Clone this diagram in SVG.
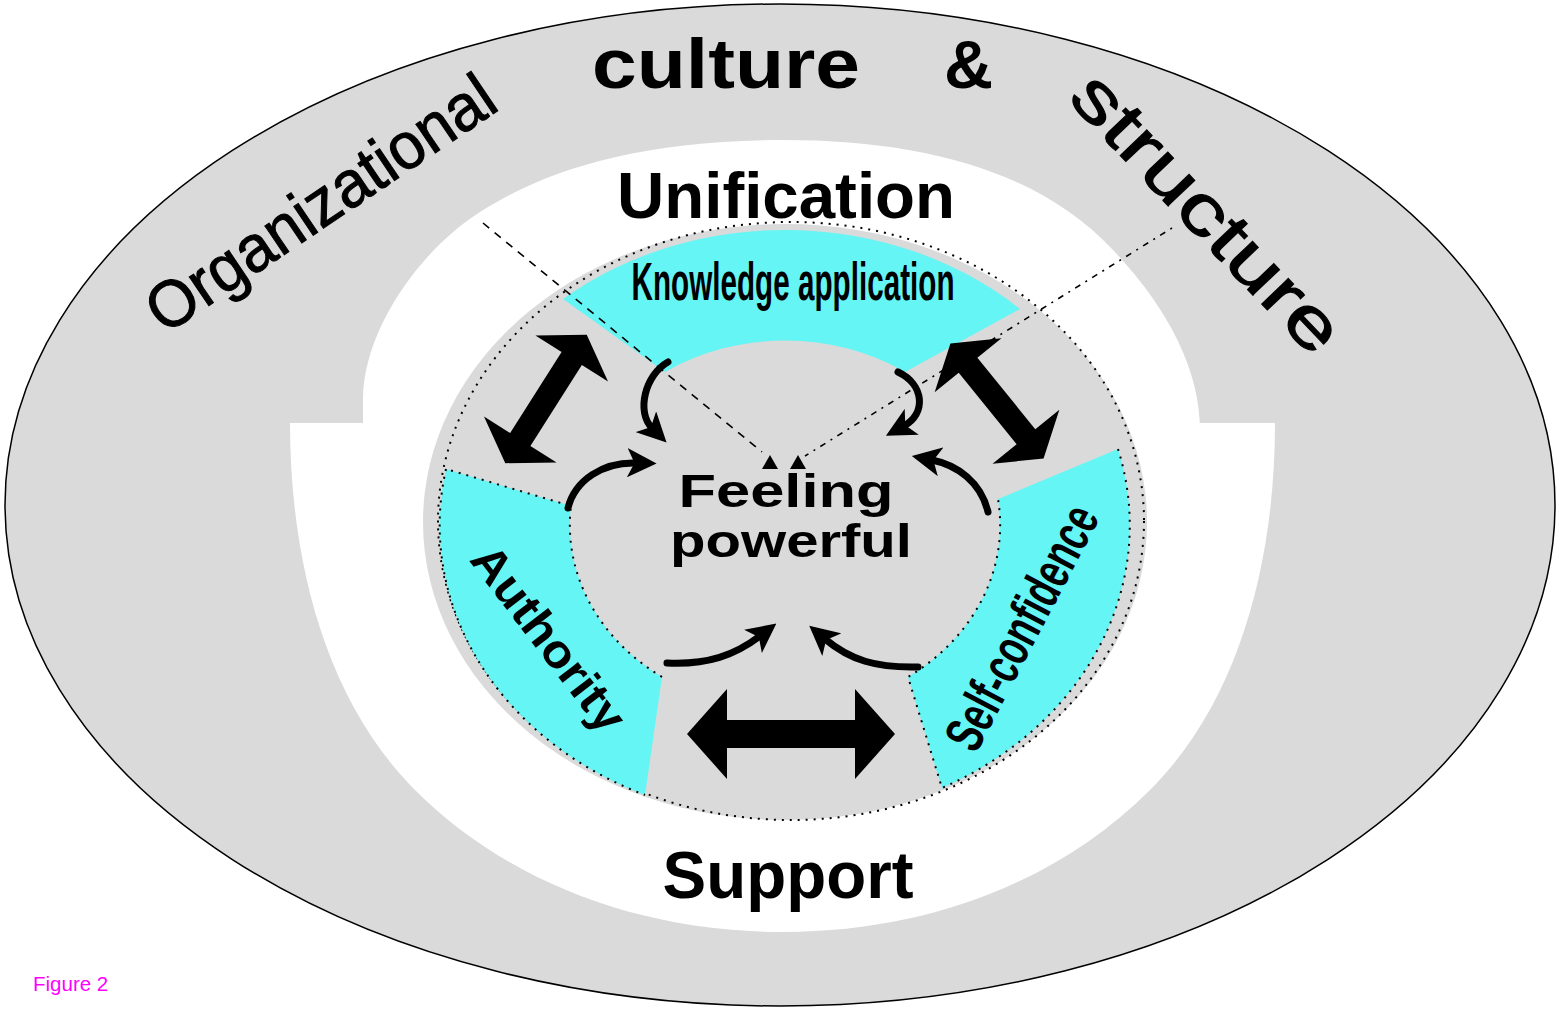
<svg xmlns="http://www.w3.org/2000/svg" width="1560" height="1011" viewBox="0 0 1560 1011">
<defs>
<style>
.gray{fill:#dadada}
.white{fill:#ffffff}
.cyan{fill:#66f5f5}
.dots{fill:none;stroke:#000;stroke-width:2;stroke-dasharray:2 6}
.curve{fill:none;stroke:#000;stroke-width:7;stroke-linecap:round}
.big{fill:#000}
.t{font-family:"Liberation Sans",Arial,sans-serif;fill:#000}
.b{font-weight:bold}
.s{stroke:#000;stroke-width:1}
</style>
<marker id="ah" viewBox="0 0 10 10" refX="3" refY="5" markerWidth="4.2" markerHeight="4.2" orient="auto" markerUnits="strokeWidth">
<path d="M0,0 L10,5 L0,10 L2.5,5 Z" fill="#000"/>
</marker>
</defs>

<g id="outer-ring">
<ellipse cx="780" cy="505" rx="775" ry="501" class="gray" stroke="#000" stroke-width="1.5"/>
<path class="white" d="M363,430 L363,400 C363,330 420,250 480,212 C545,170 640,140 783,140 C925,140 1040,172 1113,250 C1168,308 1200,370 1200,430 Z"/>
<path class="white" d="M290,423 L1275,423 C1275,560 1240,700 1150,790 C1060,880 930,932 783,932 C636,932 505,880 415,790 C325,700 290,560 290,423 Z"/>
</g>

<g id="disc">
<ellipse cx="785" cy="522" rx="362" ry="298" class="gray"/>
<ellipse cx="791" cy="521" rx="353" ry="299" class="dots"/>
</g>

<g id="knowledge-application">
<path class="cyan" d="M563,299 A345,295 0 0 1 1020,309 L905,372 A215,185 0 0 0 665,372 Z"/>
<text class="t b" x="793" y="300" font-size="54" text-anchor="middle" textLength="323" lengthAdjust="spacingAndGlyphs">Knowledge application</text>
</g>

<g id="authority">
<path class="cyan" d="M446,469 A345,295 0 0 0 645,795 L662,677 A215,185 0 0 1 571,506 Z"/>
<path class="dots" d="M446,469 A345,295 0 0 0 645,795 M662,677 A215,185 0 0 1 571,506 L446,469"/>
<text class="t b" transform="translate(536,648) rotate(52.5)" font-size="47" text-anchor="middle" textLength="222" lengthAdjust="spacingAndGlyphs">Authority</text>
</g>

<g id="self-confidence">
<path class="cyan" d="M1118,449 A345,295 0 0 1 942,788 L908,677 A215,185 0 0 0 998,499 Z"/>
<path class="dots" d="M1118,449 A345,295 0 0 1 942,788 L908,677 A215,185 0 0 0 998,499"/>
<text class="t b" transform="translate(1038,636) rotate(-62.3)" font-size="54" text-anchor="middle" textLength="268" lengthAdjust="spacingAndGlyphs">Self-confidence</text>
</g>

<g id="connectors">
<line x1="483" y1="223" x2="762" y2="452" stroke="#000" stroke-width="1.6" stroke-dasharray="8 7"/>
<line x1="1172" y1="228" x2="805" y2="456" stroke="#000" stroke-width="1.6" stroke-dasharray="2 6 6 6"/>
<path d="M770,455 L778,469 L762,469 Z" fill="#000"/>
<path d="M798,455 L806,469 L790,469 Z" fill="#000"/>
<path class="curve" marker-end="url(#ah)" d="M668,362 C645,375 636,412 652,428"/>
<path class="curve" marker-end="url(#ah)" d="M568,508 C575,480 603,462 636,463"/>
<path class="curve" marker-end="url(#ah)" d="M898,372 C925,385 926,414 904,426"/>
<path class="curve" marker-end="url(#ah)" d="M988,512 C981,482 957,465 932,460"/>
<path class="curve" marker-end="url(#ah)" d="M667,663 C708,665 735,655 760,636"/>
<path class="curve" marker-end="url(#ah)" d="M918,667 C876,668 850,660 825,639"/>
<path class="big" transform="translate(546,399) rotate(-57.6)" d="M-76,0 L-48,-43 L-48,-12 L48,-12 L48,-43 L76,0 L48,43 L48,12 L-48,12 L-48,43 Z"/>
<path class="big" transform="translate(997,401) rotate(51)" d="M-74,0 L-46,-43 L-46,-12 L46,-12 L46,-43 L74,0 L46,43 L46,12 L-46,12 L-46,43 Z"/>
<path class="big" transform="translate(791,734)" d="M-104,0 L-64,-45 L-64,-14 L64,-14 L64,-45 L104,0 L64,45 L64,14 L-64,14 L-64,45 Z"/>
</g>

<g id="feeling-powerful">
<text class="t b" x="786" y="507" font-size="46" text-anchor="middle" textLength="215" lengthAdjust="spacingAndGlyphs">Feeling</text>
<text class="t b" x="791" y="557" font-size="46" text-anchor="middle" textLength="242" lengthAdjust="spacingAndGlyphs">powerful</text>
</g>

<g id="unification">
<text class="t b" x="786" y="218" font-size="64" text-anchor="middle" textLength="338" lengthAdjust="spacingAndGlyphs">Unification</text>
</g>

<g id="support">
<text class="t b" x="788" y="898" font-size="66" text-anchor="middle" textLength="251" lengthAdjust="spacingAndGlyphs">Support</text>
</g>

<g id="culture-structure">
<text class="t s" transform="translate(333,222) rotate(-34)" font-size="66" text-anchor="middle" textLength="406" lengthAdjust="spacingAndGlyphs">Organizational</text>
<text class="t b" x="592" y="88" font-size="70" textLength="268" lengthAdjust="spacingAndGlyphs">culture</text>
<text class="t b" x="944" y="88" font-size="68">&amp;</text>
<text class="t s" transform="translate(1190,229) rotate(46.4)" font-size="70" text-anchor="middle" textLength="359" lengthAdjust="spacingAndGlyphs">structure</text>
</g>

<g id="caption">
<text x="33" y="991" font-family="Liberation Sans, Arial, sans-serif" font-size="20.5" fill="#ff00ff">Figure 2</text>
</g>
</svg>
